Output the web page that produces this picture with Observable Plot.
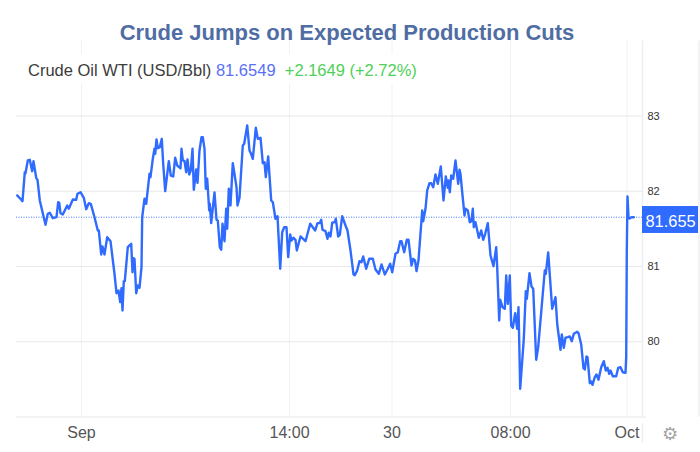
<!DOCTYPE html>
<html>
<head>
<meta charset="utf-8">
<script src="https://cdn.jsdelivr.net/npm/d3@7"></script>
<script src="https://cdn.jsdelivr.net/npm/@observablehq/plot@0.6"></script>
<style>
html,body{margin:0;padding:0;background:#fff}
#wrap{position:relative;width:700px;height:452px;overflow:hidden;font-family:"Liberation Sans",Arial,sans-serif}
#title{position:absolute;left:0;top:19px;width:694px;text-align:center;font-size:22px;font-weight:bold;color:#4f6da3;line-height:28px;background:transparent}
#legend{position:absolute;left:17px;top:54px;width:400px;height:30px;padding-left:11px;box-sizing:border-box;background:#fff;font-size:16.5px;line-height:32px;color:#3c3c3c;white-space:pre}
#legend .v{color:#5a6ff7}#legend .c{color:#4fcf58}
#gear{position:absolute;left:660px;top:423px;width:20px;height:22px;font:18px/22px "DejaVu Sans",sans-serif;color:#a3a3a3;text-align:center}
svg{display:block}
</style>
</head>
<body>
<div id="wrap">
<div id="plot"></div>
<div id="title">Crude Jumps on Expected Production Cuts</div>
<div id="legend">Crude Oil WTI (USD/Bbl) <span class="v">81.6549</span>  <span class="c">+2.1649 (+2.72%)</span></div>
<div id="gear">⚙</div>
</div>
<script>
const elapsed = [
0.7,3,6,8.3,9,11.3,13.3,15.7,17,19.7,
21,23.3,25,29,31.3,33.3,36.3,40,41.7,42.7,
44,46.3,50.7,52.3,56.3,59.7,61,64,67.3,69.7,
72.3,74.3,78,81.3,82.3,84.7,86,88,90.7,94,
98,100,102,103.7,105,106,107.3,108.3,111.3,114.7,
116,116.7,118,119.7,121.3,123,125,125.7,128,129.7,
133,134,136.3,138,138.7,140,141.3,143.3,145.3,146.7,
148.7,152.3,154.3,156.7,158.7,160.7,164,165,166.3,168,
169.7,171,172.7,174.3,176,177.3,179.7,181,183,185,
186.3,188,189.3,190.7,192.7,193.3,194.7,198,200,201.3,
203.3,204.7,206,208,209.7,210.7,212.3,214,216.3,220,
221,223,226.3,227.7,230.7,233,234.3,236.3,239.3,241.3,
244,246.3,248,249.3,251.7,254.7,256.3,259,261,263.7,
265.7,267.7,270,271.7,273.7,275,277,279,280.3,284,
289,293.7,295.7,298.7,301,303.3,304.7,306,309,311,
312.3,314,315.7,318.3,319.3,321.7,323.3,325.7,329,331,
334,337,338.3,340.7,343,345,346.7,349.7,352.7,356.3,
359,362.3,365,368.3,371.3,373.7,375.7,379,381.3,383.7,
385,387.7,390.3,392,395,396.7,398.5,400,402,405.7,
406.7,409,410.7,413,414.7,416.7,419,421.3,424.3,427,
429.3,431.3,432,433.3,434.7,436.7,439,441.7,443,444,
445.7,448,449,451.3,453.3,455,456.3,457.3,459,462.3,
464.7,466.7,468.7,471.3,474,477,479.7,480.7,482.7,483.7,
486,488.3,489.7,491.3,493.3,494.7,496.3,498.7,500.7,502,
503.7,507.3,509.3,510.3,513,515,516.7,519.7,521.7,528.3,
529.3,531.7,535.7,539,540.7,544,545.3,547.3,549,551.3,
553.3,555.3,557.3,560.7,562,564.7,567,568.3,570,571,
573.3,574.7,576,578.3,580,582,584.7,587.3,589.3,591,
592.7,594,596.3,599.7,601.7,604,606.3,609,609.7,610.3,
611,612,613,615,617.3];
const price = [
81.944,81.913,81.868,82.253,82.24,82.409,82.418,82.267,82.4,82.179,
82.152,81.877,81.78,81.554,81.7,81.714,81.642,81.655,81.855,81.847,
81.709,81.691,81.811,81.767,81.891,81.886,81.966,81.987,81.913,81.762,
81.841,81.833,81.655,81.479,81.479,81.16,81.266,81.16,81.39,81.336,
80.903,80.645,80.681,80.526,80.712,80.415,80.805,80.805,81.257,81.302,
80.924,81.111,81.103,80.645,80.748,80.717,80.991,81.655,81.9,81.833,
82.232,82.187,82.431,82.564,82.498,82.688,82.572,82.586,82.697,82.365,
82.001,82.4,82.209,82.196,82.445,82.342,82.306,82.564,82.409,82.4,
82.253,82.422,82.223,82.276,82.564,82.019,82.289,82.112,82.542,82.718,
82.718,82.564,82.033,82.166,81.744,81.833,81.576,81.984,81.621,81.611,
81.257,81.222,81.568,81.336,81.767,81.501,82.033,81.811,82.373,82.054,
81.811,81.913,82.608,82.631,82.874,82.542,82.506,82.431,82.843,82.697,
82.711,82.373,82.386,82.187,82.462,81.877,81.855,81.634,81.669,80.97,
81.456,81.522,81.522,81.124,81.425,81.346,81.382,81.355,81.213,81.399,
81.336,81.568,81.532,81.479,81.576,81.576,81.621,81.488,81.469,81.368,
81.448,81.399,81.581,81.589,81.634,81.399,81.421,81.669,81.545,81.479,
81.213,80.894,80.885,80.947,81.071,81.057,81.133,80.97,81.102,81.102,
80.96,80.903,81.027,80.894,80.97,81.036,80.924,81.169,81.19,81.336,
81.336,81.19,81.355,81.355,81.013,81.102,81.08,80.938,81.08,81.744,
81.602,81.767,82.01,82.107,82.107,82.054,82.223,82.099,82.329,81.877,
82.196,82.046,82.143,81.987,82.209,82.166,82.409,82.099,82.285,82.232,
81.987,81.678,81.767,81.744,81.589,81.602,81.767,81.522,81.589,81.382,
81.479,81.355,81.435,81.576,81.146,81.004,81.257,80.991,80.283,80.558,
80.459,80.438,80.881,80.504,80.881,80.216,80.185,80.379,80.172,80.459,
79.375,80.039,80.672,80.571,80.911,80.734,80.704,79.76,79.928,80.947,
80.903,81.186,80.438,80.592,80.239,79.893,80.096,79.92,80.053,80.061,
80.07,80.007,80.106,80.132,80.115,79.964,79.649,79.631,79.804,79.795,
79.449,79.472,79.428,79.529,79.565,79.495,79.662,79.742,79.618,79.654,
79.574,79.618,79.542,79.542,79.654,79.662,79.595,79.588,79.795,81.213,
81.93,81.655,81.638,81.655,81.655];
const lastPrice = 81.655;
const yTicks = [80, 81, 82, 83];
const xTickPositions = [65, 273, 375.5, 494, 610.5];
const xTickLabels = ["Sep", "14:00", "30", "08:00", "Oct"];
const gridTop = 84, gridBottom = 79;
const labelSpan = {x1: 626, x2: 682, top: 81.797, bottom: 81.439};
const panelEdge = 626, pageEdge = 682.5, baseEnd = 630;
const scaleFooter = {y1: 78.91, y2: 78.65};

const n = Math.min(elapsed.length, price.length);
const series = d3.range(n).map(i => ({t: elapsed[i], p: price[i]}));
const labelOf = new Map(xTickPositions.map((t, i) => [t, xTickLabels[i]]));

const chart = Plot.plot({
  width: 700, height: 452,
  marginLeft: 16, marginRight: 58, marginTop: 40.25, marginBottom: 35.5,
  style: {background: "transparent", fontFamily: '"Liberation Sans",Arial,sans-serif', overflow: "visible"},
  x: {type: "linear", domain: [0, 626]},
  y: {type: "linear", domain: [gridBottom, gridTop]},
  marks: [
    Plot.ruleX(xTickPositions, {stroke: "#eef3f6", strokeWidth: 1}),
    Plot.ruleY(yTicks, {stroke: "#e8e8e8", strokeWidth: 1.2}),
    Plot.ruleY([gridBottom], {x1: 0, x2: baseEnd, stroke: "#e8e8e8", strokeWidth: 1.2}),
    Plot.ruleX([panelEdge], {stroke: "#eceff1", strokeWidth: 1.5}),
    Plot.ruleX([panelEdge], {y1: scaleFooter.y1, y2: scaleFooter.y2, stroke: "#eceff1", strokeWidth: 1.5}),
    Plot.ruleX([pageEdge], {stroke: "#eceff1", strokeWidth: 1.5, y1: gridBottom, y2: gridTop}),
    Plot.ruleY([lastPrice], {stroke: "#2f6bff", strokeWidth: 1, strokeDasharray: "1,1.5", strokeOpacity: 0.9}),
    Plot.line(series, {x: "t", y: "p", stroke: "#2f6bff", strokeWidth: 2.4, curve: "linear"}),
    Plot.rect([labelSpan], {x1: "x1", x2: "x2", y1: "bottom", y2: "top", fill: "#2f6bff"}),
    Plot.text([lastPrice], {x: 629, y: d => d, text: d => d3.format(".3f")(d), fill: "#fff", fontSize: 16.4, textAnchor: "start", dy: 4.5}),
    Plot.axisY({anchor: "right", ticks: yTicks, tickSize: 0, tickPadding: 5, label: null, fontSize: 11, color: "#333", tickFormat: d => String(d)}),
    Plot.axisX({ticks: xTickPositions, tickSize: 0, tickPadding: 10, label: null, fontSize: 16, color: "#555", tickFormat: d => labelOf.get(d)})
  ]
});
document.getElementById("plot").appendChild(chart);
</script>
</body>
</html>
